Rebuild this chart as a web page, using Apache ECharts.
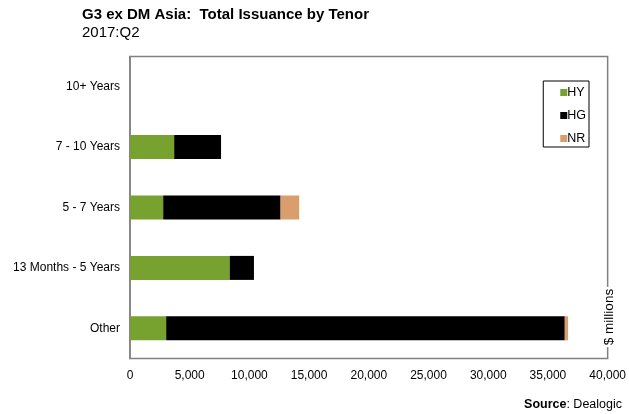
<!DOCTYPE html>
<html><head><meta charset="utf-8">
<script src="https://cdn.jsdelivr.net/npm/echarts@6/dist/echarts.min.js"></script>
<style>html,body{margin:0;padding:0;background:#fff}#c{width:629px;height:414px}</style>
</head><body><div id="c"></div>
<script>
const categories = ['10+ Years', '7 - 10 Years', '5 - 7 Years', '13 Months - 5 Years', 'Other'];
const hy = [0, 3700, 2780, 8350, 3030];
const hg = [0, 3925, 9830, 2030, 33380];
const nr = [0, 0, 1560, 0, 275];
const xTicks = [0, 5000, 10000, 15000, 20000, 25000, 30000, 35000, 40000];

const font = 'Liberation Sans, Arial, sans-serif';
const chart = echarts.init(document.getElementById('c'), null, {renderer: 'canvas'});
chart.setOption({
  animation: false,
  backgroundColor: '#fff',
  textStyle: {fontFamily: font},
  title: [{
    text: 'G3 ex DM Asia:  Total Issuance by Tenor',
    left: 82, top: 7, padding: 0,
    textStyle: {fontFamily: font, fontSize: 15, fontWeight: 'bold', color: '#000'}
  }, {
    text: '2017:Q2',
    left: 82, top: 25, padding: 0,
    textStyle: {fontFamily: font, fontSize: 15, fontWeight: 'normal', color: '#000'}
  }],
  legend: {
    orient: 'vertical',
    right: 40, top: 81,
    data: ['HY', 'HG', 'NR'],
    itemWidth: 7, itemHeight: 7, itemGap: 10,
    icon: 'rect',
    padding: [5, 3, 2, 17],
    borderColor: '#000', borderWidth: 1,
    textStyle: {fontFamily: font, fontSize: 12.5, color: '#000', padding: [0, 0, 0, -5]}
  },
  grid: {left: 130, right: 20, top: 56.5, bottom: 55.5, show: true, borderColor: '#808080', borderWidth: 1.5},
  xAxis: {
    type: 'value', min: 0, max: 40000, interval: 5000,
    axisLine: {show: false}, axisTick: {show: false}, splitLine: {show: false},
    axisLabel: {
      margin: 11, color: '#000', fontSize: 12, fontFamily: font,
      formatter: v => xTicks.includes(v) ? v.toLocaleString('en-US') : ''
    }
  },
  yAxis: {
    type: 'category', data: categories, inverse: true,
    axisLine: {show: true, lineStyle: {color: '#808080', width: 1.5}},
    axisTick: {show: false},
    axisLabel: {margin: 10, color: '#000', fontSize: 12, fontFamily: font}
  },
  series: [
    {name: 'HY', type: 'bar', stack: 't', data: hy, barWidth: 24, itemStyle: {color: '#78A22F'}},
    {name: 'HG', type: 'bar', stack: 't', data: hg, barWidth: 24, itemStyle: {color: '#000000'}},
    {name: 'NR', type: 'bar', stack: 't', data: nr, barWidth: 24, itemStyle: {color: '#DA9D6C'}}
  ],
  graphic: [{
    type: 'text', x: 609, y: 317, rotation: Math.PI / 2,
    style: {text: '$ millions', font: '13.5px ' + font, fill: '#000', align: 'center', verticalAlign: 'middle',
      backgroundColor: '#fff', padding: [1, 2]}
  }, {
    type: 'text', right: 7, top: 398,
    style: {rich: {b: {fontWeight: 'bold', fontSize: 12.5, fontFamily: font}, n: {fontSize: 12.5, fontFamily: font}},
      text: '{b|Source}{n|: Dealogic}', fill: '#000'}
  }]
});
</script></body></html>
